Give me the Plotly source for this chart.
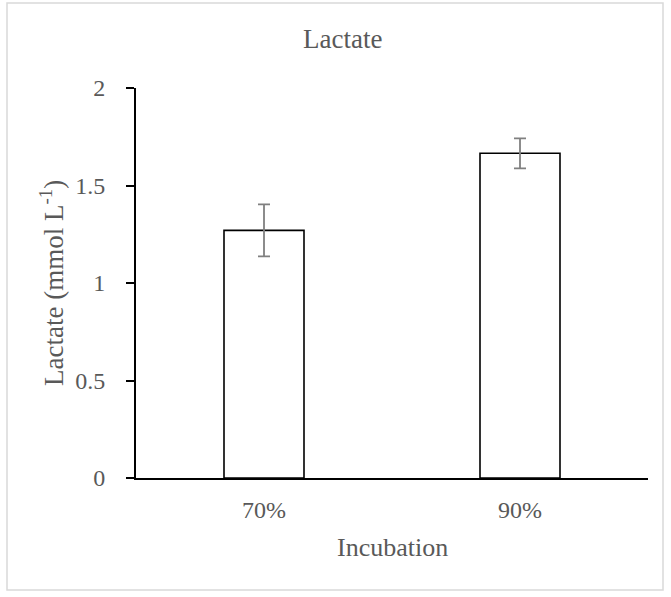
import plotly.graph_objects as go

# Lactate concentration by incubation level
categories = ["70%", "90%"]
lactate = [1.27, 1.665]
lactate_err = [0.133, 0.077]
y_ticks = [0, 0.5, 1, 1.5, 2]
y_tick_text = ["0", "0.5", "1", "1.5", "2"]

W, H = 671, 597
L, R, T, B = 136, 23, 88, 119
plot_w = W - L - R
plot_h = H - T - B

def px_x(px):
    return (px - L) / plot_w

def px_y(py):
    return (H - B - py) / plot_h

FONT = "Liberation Serif"
GRAY = "#595959"

fig = go.Figure()
fig.add_trace(go.Bar(
    x=categories,
    y=lactate,
    marker=dict(color="white", line=dict(color="black", width=1.6)),
    error_y=dict(type="data", array=lactate_err, visible=True,
                 color="#808080", thickness=1.8, width=6),
    width=0.3125,
))

fig.update_layout(
    width=W, height=H,
    margin=dict(l=L, r=R, t=T, b=B),
    paper_bgcolor="white",
    plot_bgcolor="white",
    showlegend=False,
    font=dict(family=FONT, color=GRAY, size=24),
    xaxis=dict(
        showline=True, linecolor="black", linewidth=2,
        ticks="", showgrid=False, zeroline=False,
        tickfont=dict(family=FONT, size=24, color=GRAY),
        ticklabelstandoff=9,
        range=[-0.5, 1.5],
    ),
    yaxis=dict(
        range=[0, 2],
        tickvals=y_ticks, ticktext=y_tick_text,
        showline=True, linecolor="black", linewidth=2,
        ticks="outside", ticklen=8, tickwidth=2, tickcolor="black",
        showgrid=False, zeroline=False,
        tickfont=dict(family=FONT, size=24, color=GRAY),
        ticklabelstandoff=16,
    ),
    annotations=[
        dict(text="Lactate", x=px_x(342), y=px_y(39), xref="paper", yref="paper",
             showarrow=False, font=dict(family=FONT, size=27, color=GRAY),
             xanchor="center", yanchor="middle"),
        dict(text="Lactate (mmol L<sup>-1</sup>)", x=px_x(52), y=0.5,
             xref="paper", yref="paper", textangle=-90, showarrow=False,
             font=dict(family=FONT, size=27, color=GRAY),
             xanchor="center", yanchor="middle"),
        dict(text="Incubation", x=0.5, y=px_y(547), xref="paper", yref="paper",
             showarrow=False, font=dict(family=FONT, size=26, color=GRAY),
             xanchor="center", yanchor="middle"),
    ],
    shapes=[
        dict(type="rect", xref="paper", yref="paper",
             x0=px_x(7), x1=px_x(663), y0=px_y(590), y1=px_y(3),
             line=dict(color="#d9d9d9", width=1.5), fillcolor="rgba(0,0,0,0)",
             layer="below"),
    ],
)

fig.write_html("out.html")
